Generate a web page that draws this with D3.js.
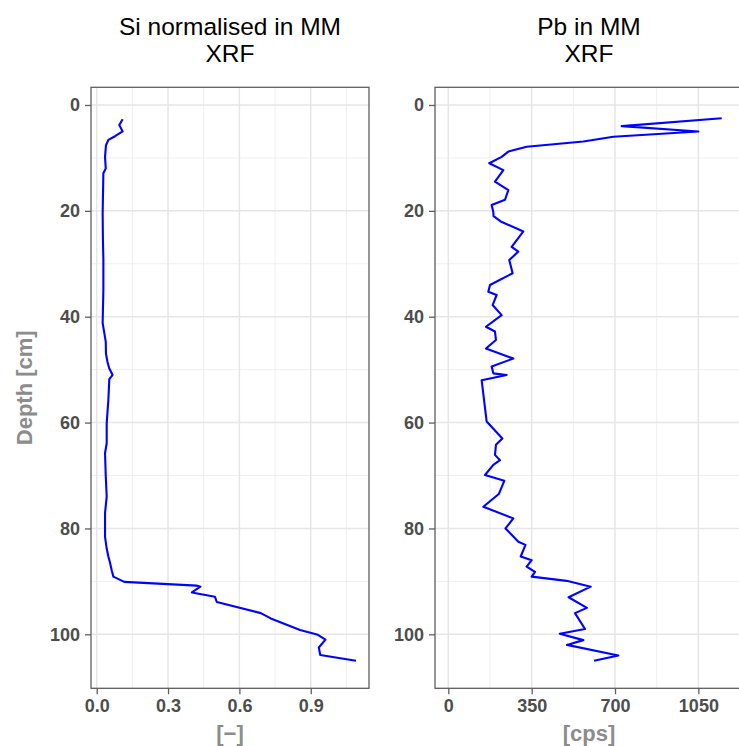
<!DOCTYPE html>
<html>
<head>
<meta charset="utf-8">
<script src="https://cdn.jsdelivr.net/npm/d3@7"></script>
<style>
  html, body { margin: 0; padding: 0; background: #fff; }
  svg { display: block; }
</style>
</head>
<body>
<svg id="chart" width="739" height="746"></svg>
<script>
// ---- data (depth in cm, value) ----
const siDepth = [2.7, 3.8, 5.0, 5.9, 6.6, 7.6, 9.8, 12.0, 12.9, 20.5, 25.0, 29.3, 35.0, 41.2, 44.7, 47.0, 48.5, 49.8, 51.0, 51.8, 55.7, 60.1, 63.9, 65.8, 70.0, 74.0, 77.1, 81.6, 83.8, 85.3, 86.5, 87.9, 89.1, 90.1, 90.8, 91.0, 92.1, 92.9, 93.9, 96.0, 97.0, 99.2, 100.1, 101.0, 102.5, 103.9, 105.0];
const siValue = [0.109, 0.095, 0.109, 0.077, 0.049, 0.039, 0.035, 0.038, 0.028, 0.025, 0.026, 0.028, 0.028, 0.025, 0.038, 0.039, 0.045, 0.053, 0.067, 0.053, 0.049, 0.042, 0.042, 0.035, 0.038, 0.042, 0.035, 0.035, 0.042, 0.049, 0.056, 0.063, 0.070, 0.116, 0.420, 0.436, 0.400, 0.497, 0.505, 0.690, 0.732, 0.855, 0.930, 0.962, 0.934, 0.940, 1.090];

const pbDepth = [2.5, 4.0, 5.0, 6.0, 6.9, 7.9, 8.8, 9.8, 11.0, 12.3, 14.5, 16.1, 17.9, 18.9, 20.2, 21.0, 22.0, 23.9, 26.8, 27.7, 29.3, 31.8, 34.0, 35.3, 35.9, 37.8, 39.7, 41.9, 42.8, 44.4, 46.0, 47.9, 49.4, 50.7, 51.0, 52.0, 59.8, 63.0, 64.2, 66.1, 67.1, 68.0, 69.9, 71.0, 73.5, 75.9, 78.1, 80.0, 82.5, 83.1, 85.3, 86.0, 87.2, 88.2, 89.1, 89.9, 91.0, 93.0, 95.0, 96.0, 99.0, 99.9, 101.1, 102.0, 104.0, 105.0];
const pbValue = [1148, 728, 1050, 693, 567, 329, 252, 224, 172, 231, 196, 252, 238, 182, 189, 190, 220, 315, 266, 294, 256, 270, 175, 168, 203, 186, 224, 158, 196, 200, 158, 273, 182, 189, 245, 140, 161, 227, 200, 196, 217, 189, 154, 235, 212, 147, 273, 240, 294, 324, 304, 350, 329, 364, 350, 497, 598, 505, 582, 532, 574, 468, 567, 498, 714, 612];

const depthTicks = [0, 20, 40, 60, 80, 100];
const depthMinor = [10, 30, 50, 70, 90];
const siTicks = [0, 0.3, 0.6, 0.9];
const siTickLabels = ["0.0", "0.3", "0.6", "0.9"];
const siMinor = [0.15, 0.45, 0.75, 1.05];
const pbTicks = [0, 350, 700, 1050];
const pbTickLabels = ["0", "350", "700", "1050"];
const pbMinor = [175, 525, 875];

const titles = [["Si normalised in MM", "XRF"], ["Pb in MM", "XRF"]];
const xTitles = ["[\u2212]", "[cps]"];
const yTitle = "Depth [cm]";

// ---- layout ----
const svg = d3.select("#chart");
const yTop = 87.3, yBottom = 688.3;
const y = d3.scaleLinear().domain([-3.34, 110.2]).range([yTop, yBottom]);

const panels = [
  { x0: 91, x1: 369, domain: [-0.024, 1.145], ticks: siTicks, labels: siTickLabels, minor: siMinor,
    depth: siDepth, value: siValue, title: titles[0], xTitle: xTitles[0], cx: 230 },
  { x0: 435, x1: 741, domain: [-55.9, 1229], ticks: pbTicks, labels: pbTickLabels, minor: pbMinor,
    depth: pbDepth, value: pbValue, title: titles[1], xTitle: xTitles[1], cx: 589 }
];

const font = "'Liberation Sans', Arial, Helvetica, sans-serif";

panels.forEach(p => {
  const x = d3.scaleLinear().domain(p.domain).range([p.x0, p.x1]);
  const g = svg.append("g");

  g.append("rect").attr("x", p.x0).attr("y", yTop).attr("width", p.x1 - p.x0).attr("height", yBottom - yTop)
    .attr("fill", "#fff");

  // minor grid
  g.selectAll(".vminor").data(p.minor).join("line")
    .attr("x1", d => x(d)).attr("x2", d => x(d)).attr("y1", yTop).attr("y2", yBottom)
    .attr("stroke", "#ebebeb").attr("stroke-width", 0.8);
  g.selectAll(".hminor").data(depthMinor).join("line")
    .attr("y1", d => y(d)).attr("y2", d => y(d)).attr("x1", p.x0).attr("x2", p.x1)
    .attr("stroke", "#ebebeb").attr("stroke-width", 0.8);
  // major grid
  g.selectAll(".vmajor").data(p.ticks).join("line")
    .attr("x1", d => x(d)).attr("x2", d => x(d)).attr("y1", yTop).attr("y2", yBottom)
    .attr("stroke", "#e6e6e6").attr("stroke-width", 1.5);
  g.selectAll(".hmajor").data(depthTicks).join("line")
    .attr("y1", d => y(d)).attr("y2", d => y(d)).attr("x1", p.x0).attr("x2", p.x1)
    .attr("stroke", "#e6e6e6").attr("stroke-width", 1.5);

  // line
  const pts = p.depth.map((d, i) => [p.value[i], d]);
  g.append("path").datum(pts)
    .attr("d", d3.line().x(d => x(d[0])).y(d => y(d[1])))
    .attr("fill", "none").attr("stroke", "#0000ff").attr("stroke-width", 2.1)
    .attr("stroke-linejoin", "round").attr("stroke-linecap", "butt");

  // border
  g.append("rect").attr("x", p.x0).attr("y", yTop).attr("width", p.x1 - p.x0).attr("height", yBottom - yTop)
    .attr("fill", "none").attr("stroke", "#5e5e5e").attr("stroke-width", 1.3);

  // y axis
  const ya = svg.append("g").attr("transform", `translate(${p.x0},0)`)
    .call(d3.axisLeft(y).tickValues(depthTicks).tickSize(6).tickPadding(5).tickFormat(d3.format("d")));
  ya.select(".domain").remove();
  ya.selectAll("line").attr("stroke", "#5e5e5e").attr("stroke-width", 1.3);
  ya.selectAll("text").attr("fill", "#4d4d4d").style("font-family", font)
    .style("font-size", "18px").style("font-weight", "bold");

  // x axis
  const xa = svg.append("g").attr("transform", `translate(0,${yBottom})`)
    .call(d3.axisBottom(x).tickValues(p.ticks).tickSize(6).tickPadding(5)
      .tickFormat((d, i) => p.labels[i]));
  xa.select(".domain").remove();
  xa.selectAll("line").attr("stroke", "#5e5e5e").attr("stroke-width", 1.3);
  xa.selectAll("text").attr("fill", "#4d4d4d").style("font-family", font)
    .style("font-size", "18px").style("font-weight", "bold");

  // titles
  svg.append("text").attr("x", p.cx).attr("y", 34.5).attr("text-anchor", "middle")
    .style("font-family", font).style("font-size", "24.5px").attr("fill", "#000").text(p.title[0]);
  svg.append("text").attr("x", p.cx).attr("y", 62).attr("text-anchor", "middle")
    .style("font-family", font).style("font-size", "24.5px").attr("fill", "#000").text(p.title[1]);

  // x title
  svg.append("text").attr("x", p.cx).attr("y", 741).attr("text-anchor", "middle")
    .style("font-family", font).style("font-size", "22px").style("font-weight", "bold")
    .attr("fill", "#8c8c8c").text(p.xTitle);
});

// y title
svg.append("text").attr("transform", `translate(32,${(yTop + yBottom) / 2}) rotate(-90)`)
  .attr("text-anchor", "middle")
  .style("font-family", font).style("font-size", "22px").style("font-weight", "bold")
  .attr("fill", "#8c8c8c").text(yTitle);
</script>
</body>
</html>
